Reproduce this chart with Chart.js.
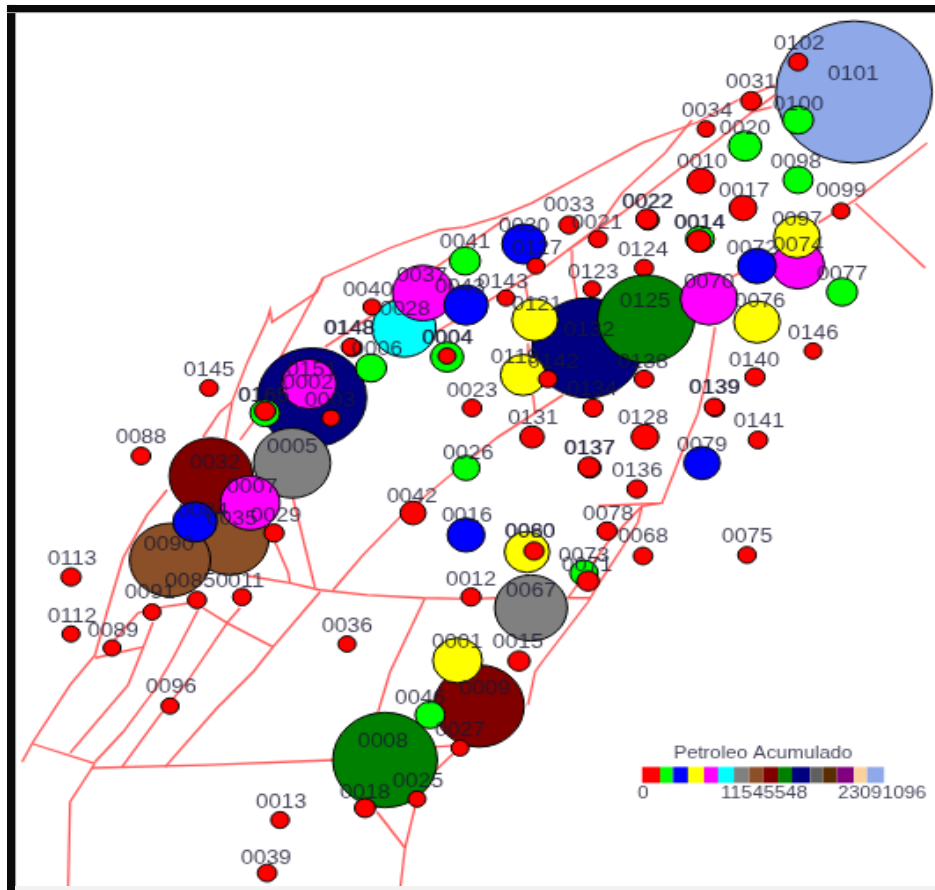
<!DOCTYPE html>
<html>
<head>
<meta charset="utf-8">
<title>Petroleo Acumulado</title>
<script src="https://cdn.jsdelivr.net/npm/chart.js@4"></script>
<style>
  html, body { margin: 0; padding: 0; background: #fff; overflow: hidden; width: 935px; height: 890px; }
  /* the source is a low resolution map stretched wider than tall, so draw small and scale up */
  #map { position: absolute; left: 0; top: 0; transform-origin: 0 0; transform: scale(1.76, 1.6); filter: blur(0.35px); }
  #frameLeft { position: absolute; left: 7px; top: 5px; width: 8px; height: 885px; background: #0a0a0a; box-shadow: 1px 0 1px #999; }
  #frameTop { position: absolute; left: 7px; top: 5px; width: 928px; height: 7px; background: #0a0a0a; box-shadow: 0 1px 1px #999; }
  #frameBottom { position: absolute; left: 15px; top: 886px; width: 920px; height: 4px; background: #f2f2f2; }
</style>
</head>
<body>
<div id="map"><canvas id="chart" width="532" height="557"></canvas></div>
<div id="frameLeft"></div>
<div id="frameTop"></div>
<div id="frameBottom"></div>
<script>
const SCALE_X = 1.76;
const SCALE_Y = 1.6;

// wells, in drawing order. Wells listed twice are really two wells on one spot
const wellIds = [
  '0101','0102','0031','0100','0034','0020','0010','0098','0017','0099',
  '0033','0022','0022','0021','0014','0014','0030','0127','0124','0041',
  '0074','0097','0072','0077','0143','0123','0132','0125','0070','0076',
  '0121','0146','0140','0138','0119','0142','0134','0139','0139','0141',
  '0128','0131','0023','0079','0137','0137','0136','0078','0068','0075',
  '0080','0060','0073','0071','0067','0012','0015','0009','0001','0046',
  '0027','0008','0018','0025','0013','0039','0036','0042','0016','0002',
  '0151','0003','0165','0166','0035','0090','0032','0005','0007','0084',
  '0029','0091','0085','0011','0113','0112','0089','0096','0088','0145',
  '0148','0148','0006','0028','0037','0040','0043','0004','0004','0026',
];
const wellX = [
  854,798,751,798,706,745,701,798,743,841,
  569,648,647,598,700,699,524,536,644,465,
  798,797,757,842,506,592,587,646,709,757,
  535,813,755,644,523,548,593,715,714,758,
  645,532,472,702,590,589,637,607,643,747,
  527,534,584,588,531,471,519,479,457.5,430,
  460,385,365,417,280,267,347,413,466,312,
  309,331,265,265,230,170,211,292,250,195,
  274,152,197,242,71,71,112,170,141,209,
  352,351,371,404,423,372,466,447,447,466,
];
const wellY = [
  92,62,101,120,129,146,181,180,208,211,
  225,220,219,239,239,241,244,266,268,261,
  265,237,266,292,298,289,348,319,299,322,
  320,351,377,379,375,379,408,408,407,440,
  437,437,408,463,468,467,489,531,556,555,
  552,551,573,581,608,597,661,706,660.5,715,
  748,760,808,799,820,873,644,513,535,397.5,
  384,418,413,411,540,560,476,463,503,522,
  533,612,600,597,577,634,648,706,456,388,
  348,347,368,328,293,307,305,357,356,468,
];
const wellRadius = [
  71,8.7,9.3,14,8,15,12.5,13.5,12.5,8,
  9,10,10,8.5,13,11,20,8,8.5,14,
  24,21,17.5,14,8,8,50,44,26,21,
  21,8,9,8.7,20.5,8.5,9,8.7,8.7,8.7,
  12.5,11,8.7,16.5,10,10,9,9,8.7,8.3,
  20.5,9,12.7,10,33,9,10,41,22.5,13.5,
  8,47.5,9.5,8,8.3,8.7,8,11.7,17,49.5,
  25,8.3,13.5,9.5,35,36.7,38,35,27,20,
  9,8,8.5,8.5,9,8,8,8,8.7,8.3,
  8.7,8.7,14,29,27.7,8,20,15,8,12.5,
];
// index into legendColors
const wellClass = [
  15,0,0,1,0,1,0,1,0,0,
  0,0,0,0,1,0,2,0,0,1,
  4,3,2,1,0,0,10,9,4,3,
  3,0,0,0,3,0,0,0,0,0,
  0,0,0,2,0,0,0,0,0,0,
  3,0,1,0,6,0,0,8,3,1,
  0,9,0,0,0,0,0,0,2,10,
  4,0,1,0,7,7,8,6,4,2,
  0,0,0,0,0,0,0,0,0,0,
  0,0,1,5,4,0,2,1,0,1,
];
const labelX = [
  853,799,751,798,707,745,702,796,744,841,
  569,648,647,597,700,699,524,537,643,465,
  798,797,752,842,503,593,589,645,709,760,
  537,813,754,643,515,553,592,715,714,759,
  643,533,472,702,590,589,637,608,643,747,
  530,530,584,587,531,471,518,485,457,420,
  460,383,365,418,281,266,347,412,467,308,
  312,330,263,264,232,169,215,292,252,203,
  276,150,190,240,72,72,113,171,141,209,
  350,349,377,405,422,368,460,447,448,468,
];
const labelY = [
  74,44,83,104,111,129,163,163,191,191,
  206,202,202,223,223,223,226,248,250,243,
  245,220,248,275,283,273,331,301,283,302,
  304,334,360,362,358,362,390,388,388,422,
  419,419,391,445,449,449,471,514,537,537,
  532,532,556,566,591,580,643,688,643,698,
  730,742,792,782,802,858,626,496,516,383,
  370,401,396,396,519,544,463,447,487,511,
  516,593,582,581,559,617,631,687,437,371,
  329,329,349,310,276,291,287,339,339,453,
];

// pipelines as [x, y] vertices
const roads = [
  [[203,437],[220,412],[232,402],[247,363],[267,320],[270,310],[272,322],[317,292],[323,278],[390,248],[440,230],[465,227],[498,217],[532,203],[592,170],[642,143],[698,122],[738,100]],
  [[225,440],[232,403]],
  [[323,278],[300,322],[280,358]],
  [[240,440],[260,413]],
  [[325,347],[370,317],[432,270],[478,238],[508,217]],
  [[405,350],[453,322],[498,295],[548,265],[568,250],[598,227],[622,193],[665,153],[692,120]],
  [[568,250],[622,213],[678,170],[718,140],[752,112],[775,95]],
  [[752,112],[772,107]],
  [[775,85],[738,100]],
  [[927,143],[855,200],[818,223]],
  [[855,203],[892,237],[925,268]],
  [[572,250],[572,267],[577,300]],
  [[525,283],[528,300]],
  [[528,343],[528,357]],
  [[533,395],[535,413]],
  [[563,395],[498,437],[453,473],[400,517],[363,555],[333,590]],
  [[715,327],[707,377],[698,413],[688,437],[682,452],[662,503],[598,506]],
  [[662,503],[642,506],[638,522],[622,548],[598,585],[588,602],[542,662],[535,672],[528,705]],
  [[642,506],[608,542],[575,588],[568,598],[590,598]],
  [[732,277],[745,270]],
  [[248,576],[290,583],[320,590],[367,595],[423,598],[470,599],[497,598]],
  [[275,542],[288,572],[290,583]],
  [[293,498],[315,588]],
  [[320,592],[273,647],[253,672],[217,708],[165,767]],
  [[425,598],[390,672],[378,712]],
  [[203,608],[227,623],[273,647]],
  [[240,608],[227,623],[187,682],[160,715],[122,767]],
  [[198,610],[173,658],[153,692],[123,732],[95,762]],
  [[167,490],[147,515],[123,558],[107,612],[95,655],[70,685],[33,742],[22,762]],
  [[95,658],[143,647]],
  [[153,622],[143,648],[128,685],[70,753]],
  [[197,602],[163,607],[138,613],[113,642]],
  [[33,744],[93,763]],
  [[95,762],[92,768],[207,765],[335,760]],
  [[92,768],[70,802],[68,890]],
  [[377,812],[405,848],[400,890]],
  [[415,807],[405,848]],
  [[435,747],[460,745]],
  [[433,773],[457,750]],
];

const legendTitle = 'Petroleo Acumulado';
const legendColors = [
  '#ff0000','#00ff00','#0000ff','#ffff00','#ff00ff','#00ffff','#808080','#8b5028',
  '#800000','#008000','#000080','#5f5f5f','#5a2d00','#800080','#fcd29c','#8fa8e8',
];
const legendEdges = [642,660,673,688,704,718,734,749,763,778,792,810,823,837,854,867,884];
const legendTicks = ['0','11545548','23091096'];
const legendTickX = [643,764,882];

const TEXT_COLOR = 'rgba(25,25,50,0.82)';

const wellLabels = {
  id: 'wellLabels',
  afterDatasetsDraw(chart) {
    const { ctx, scales: { x, y } } = chart;
    ctx.save();
    ctx.fillStyle = TEXT_COLOR;
    ctx.font = '13px "Liberation Sans"';
    ctx.textAlign = 'center';
    ctx.textBaseline = 'middle';
    wellIds.forEach((id, i) => {
      ctx.fillText(id, x.getPixelForValue(labelX[i]), y.getPixelForValue(labelY[i]));
    });

    // colour ramp legend
    legendColors.forEach((color, i) => {
      const left = x.getPixelForValue(legendEdges[i]);
      ctx.fillStyle = color;
      ctx.fillRect(left, y.getPixelForValue(767), x.getPixelForValue(legendEdges[i + 1]) - left, 16 / SCALE_Y);
    });
    ctx.fillStyle = TEXT_COLOR;
    ctx.font = '11.3px "Liberation Sans"';
    ctx.fillText(legendTitle, x.getPixelForValue(763), y.getPixelForValue(754));
    legendTicks.forEach((tick, i) => {
      ctx.fillText(tick, x.getPixelForValue(legendTickX[i]), y.getPixelForValue(794));
    });
    ctx.restore();
  },
};

const roadSets = roads.map(path => ({
  type: 'line',
  data: path.map(([px, py]) => ({ x: px, y: py })),
  borderColor: '#ff5a5a',
  borderWidth: 1.3,
  pointRadius: 0,
  tension: 0,
  clip: false,
  order: 2,
}));

const wellSet = {
  type: 'bubble',
  data: wellIds.map((id, i) => ({ x: wellX[i], y: wellY[i], r: wellRadius[i] / SCALE_Y })),
  backgroundColor: wellClass.map(c => legendColors[c]),
  borderColor: '#000',
  borderWidth: 1,
  clip: false,
  order: 1,
};

new Chart(document.getElementById('chart'), {
  data: { datasets: [wellSet, ...roadSets] },
  plugins: [wellLabels],
  options: {
    responsive: false,
    devicePixelRatio: 1,
    animation: false,
    events: [],
    layout: { padding: 0, autoPadding: false },
    plugins: { legend: { display: false }, tooltip: { enabled: false } },
    scales: {
      x: { type: 'linear', display: false, min: 0, max: 532 * SCALE_X },
      y: { type: 'linear', display: false, reverse: true, min: 0, max: 557 * SCALE_Y },
    },
  },
});
</script>
</body>
</html>
